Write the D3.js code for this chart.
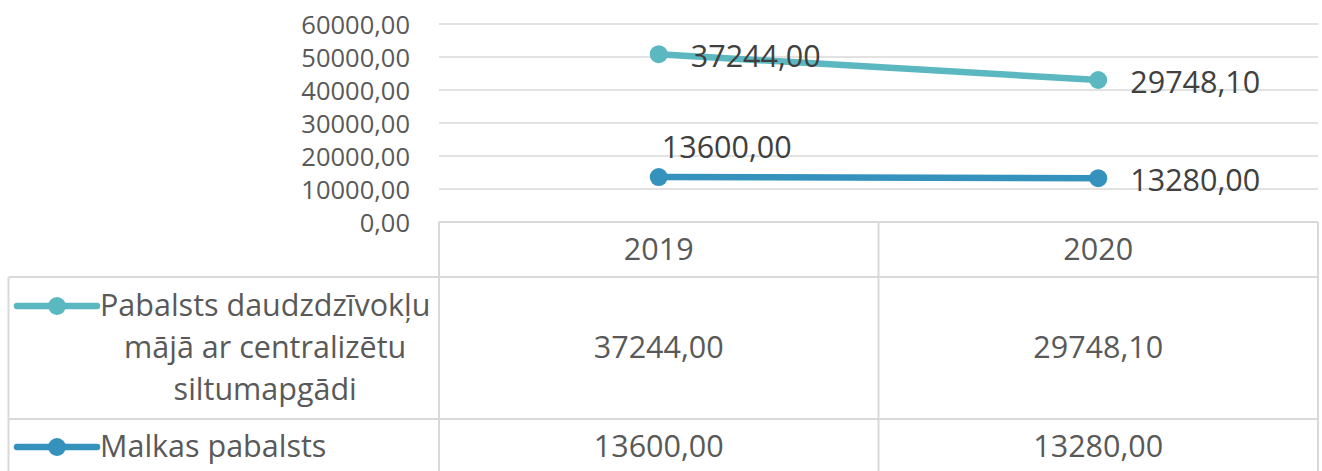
<!DOCTYPE html>
<html>
    <head>
        <meta charset="utf-8">
        <script src="https://d3js.org/d3.v7.min.js"></script>
        <style>
            body { margin: 0; background: #fff; }
            text { font-family: "Open Sans", sans-serif; }
        </style>
    </head>
    <body>
        <script>
            // chart values
            var years = ["2019", "2020"];
            var seriesKeys = ["malkas", "centralizeta"];   // stacking order, bottom first
            var seriesLines = {
                centralizeta: ["Pabalsts daudzdzīvokļu", "mājā ar centralizētu", "siltumapgādi"],
                malkas: ["Malkas pabalsts"]
            };
            var centralizetaValues = [37244.00, 29748.10];
            var malkasValues = [13600.00, 13280.00];
            var tableOrder = ["centralizeta", "malkas"];
            var yMax = 60000;

            var colors = { centralizeta: "#5bb8c1", malkas: "#3492bc" };
            var labelPos = { centralizeta: ["right", "right"], malkas: ["above", "right"] };

            var width = 1322, height = 471;
            var plotLeft = 439, plotRight = 1318, plotTop = 24, plotBottom = 222;

            var fmt = d3.formatLocale({ decimal: ",", thousands: " ", grouping: [3], currency: ["", ""] }).format(".2f");

            var rows = years.map(function (yr, i) {
                return { year: yr, centralizeta: centralizetaValues[i], malkas: malkasValues[i] };
            });
            var stacked = d3.stack().keys(seriesKeys)(rows);

            var svg = d3.select("body").append("svg")
                .attr("width", width)
                .attr("height", height);

            var x = d3.scaleBand().domain(years).range([plotLeft, plotRight]);
            var y = d3.scaleLinear().domain([0, yMax]).range([plotBottom, plotTop]);

            // gridlines
            var ticks = y.ticks(6);
            svg.append("g").selectAll("line")
                .data(ticks.filter(function (t) { return t > 0; }))
                .enter().append("line")
                .attr("x1", plotLeft).attr("x2", plotRight)
                .attr("y1", function (d) { return y(d); })
                .attr("y2", function (d) { return y(d); })
                .attr("stroke", "#d9d9d9")
                .attr("stroke-width", 1.5);

            // y axis labels
            var yAxis = d3.axisLeft(y).tickValues(ticks).tickFormat(fmt).tickSize(0).tickPadding(0);
            var ga = svg.append("g")
                .attr("transform", "translate(410,0)")
                .call(yAxis);
            ga.select(".domain").remove();
            ga.selectAll("text")
                .attr("font-family", "Open Sans")
                .attr("font-size", 25.5)
                .attr("fill", "#595959")
                .attr("dy", "0.36em");

            // table
            var rowTop = [222, 277, 419, 480];
            var tbl = svg.append("g")
                .attr("stroke", "#d9d9d9")
                .attr("stroke-width", 2);
            tbl.append("line").attr("x1", plotLeft).attr("x2", plotRight).attr("y1", rowTop[0]).attr("y2", rowTop[0]);
            [rowTop[1], rowTop[2]].forEach(function (yy) {
                tbl.append("line").attr("x1", 8.5).attr("x2", plotRight).attr("y1", yy).attr("y2", yy);
            });
            tbl.append("line").attr("x1", 8.5).attr("x2", 8.5).attr("y1", rowTop[1]).attr("y2", height);
            [plotLeft].concat(years.map(function (yr) { return x(yr) + x.bandwidth(); })).forEach(function (xx) {
                tbl.append("line").attr("x1", xx).attr("x2", xx).attr("y1", rowTop[0]).attr("y2", height);
            });

            // header years
            svg.append("g").selectAll("text")
                .data(years)
                .enter().append("text")
                .attr("x", function (d) { return x(d) + x.bandwidth() / 2; })
                .attr("y", 260)
                .attr("text-anchor", "middle")
                .attr("font-size", 30.5)
                .attr("fill", "#595959")
                .text(function (d) { return d; });

            // table rows: legend key + values
            var valuesByKey = { centralizeta: centralizetaValues, malkas: malkasValues };
            tableOrder.forEach(function (key, r) {
                var y0 = rowTop[r + 1], y1 = rowTop[r + 2];
                var lines = seriesLines[key];
                var lineH = 42;
                var mid = r === 0 ? (y0 + y1) / 2 : 447;
                var firstBase = mid - (lines.length - 1) * lineH / 2 + 10;
                var keyY = firstBase - 10;

                svg.append("line")
                    .attr("x1", 17).attr("x2", 97)
                    .attr("y1", keyY).attr("y2", keyY)
                    .attr("stroke", colors[key])
                    .attr("stroke-width", 6.5)
                    .attr("stroke-linecap", "round");
                svg.append("circle")
                    .attr("cx", 57).attr("cy", keyY).attr("r", 9)
                    .attr("fill", colors[key]);

                var tg = svg.append("g");
                var txt = tg.selectAll("text")
                    .data(lines)
                    .enter().append("text")
                    .attr("y", function (d, i) { return firstBase + i * lineH; })
                    .attr("font-size", 30.5)
                    .attr("fill", "#595959")
                    .text(function (d) { return d; });
                var maxW = 0;
                txt.each(function () { maxW = Math.max(maxW, this.getComputedTextLength()); });
                txt.attr("x", 100 + maxW / 2).attr("text-anchor", "middle");

                svg.append("g").selectAll("text")
                    .data(valuesByKey[key])
                    .enter().append("text")
                    .attr("x", function (d, i) { return x(years[i]) + x.bandwidth() / 2; })
                    .attr("y", firstBase + (lines.length - 1) * lineH / 2)
                    .attr("text-anchor", "middle")
                    .attr("font-size", 30.5)
                    .attr("fill", "#595959")
                    .text(function (d) { return fmt(d); });
            });

            // stacked lines
            var line = d3.line()
                .x(function (d) { return x(d.data.year) + x.bandwidth() / 2; })
                .y(function (d) { return y(d[1]); });

            stacked.forEach(function (s) {
                var key = s.key;
                svg.append("path")
                    .datum(s)
                    .attr("d", line)
                    .attr("fill", "none")
                    .attr("stroke", colors[key])
                    .attr("stroke-width", 6.5)
                    .attr("stroke-linecap", "round");
                svg.append("g").selectAll("circle")
                    .data(s)
                    .enter().append("circle")
                    .attr("cx", function (d) { return x(d.data.year) + x.bandwidth() / 2; })
                    .attr("cy", function (d) { return y(d[1]); })
                    .attr("r", 9)
                    .attr("fill", colors[key]);
            });

            stacked.forEach(function (s) {
                var key = s.key;
                svg.append("g").selectAll("text")
                    .data(s)
                    .enter().append("text")
                    .attr("x", function (d, i) {
                        var cx = x(d.data.year) + x.bandwidth() / 2;
                        return labelPos[key][i] === "above" ? cx + 3 : cx + 32;
                    })
                    .attr("y", function (d, i) {
                        var cy = y(d[1]);
                        return labelPos[key][i] === "above" ? cy - 19 : cy + 13;
                    })
                    .attr("font-size", 30.5)
                    .attr("fill", "#404040")
                    .text(function (d) { return fmt(d.data[key]); });
            });
        </script>
    </body>
</html>
